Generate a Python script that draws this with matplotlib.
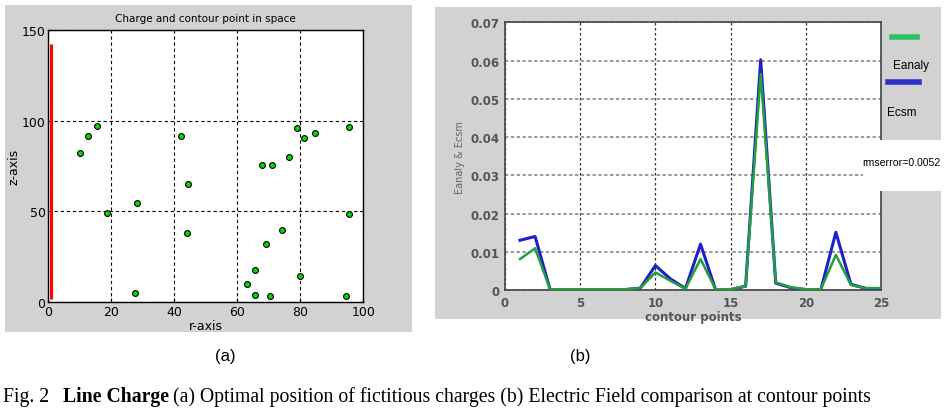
import matplotlib
matplotlib.use("Agg")
import matplotlib.pyplot as plt
from matplotlib.patches import Rectangle
from matplotlib.lines import Line2D
from matplotlib.text import Annotation

# (a) charge and contour point positions
r_pts = [10, 12.7, 15.5, 18.5, 28, 27.6, 42.2, 44.4, 43.9, 67.9, 70.9, 76.3, 79.0,
         81.3, 84.8, 95.6, 95.6, 74.3, 69.2, 65.5, 63.2, 65.5, 70.5, 79.8, 94.6]
z_pts = [82.3, 91.7, 97.2, 49.3, 54.8, 5.1, 91.7, 64.9, 38.3, 75.7, 75.7, 79.8, 95.9,
         90.6, 93.2, 96.5, 48.8, 39.6, 32.1, 17.8, 10.3, 4.0, 3.6, 14.7, 3.6]
charge_r = [0.7, 0.7]
charge_z = [2, 142]

# (b) electric field at contour points
contour = [1, 2, 3, 4, 5, 6, 7, 8, 9, 10, 11, 12, 13, 14, 15, 16, 17, 18, 19, 20,
           21, 22, 23, 24, 25]
e_analy = [0.0081, 0.0109, 0.0002, 0.0002, 0.0002, 0.0002, 0.0002, 0.0002, 0.0005,
           0.0046, 0.0024, 0.0003, 0.0081, 0.0002, 0.0002, 0.0010, 0.0565, 0.0020,
           0.0007, 0.0002, 0.0002, 0.0092, 0.0013, 0.0005, 0.0005]
e_csm = [0.0130, 0.0140, 0.0001, 0.0001, 0.0001, 0.0001, 0.0001, 0.0001, 0.0005,
         0.0064, 0.0029, 0.0004, 0.0120, 0.0001, 0.0001, 0.0010, 0.0602, 0.0018,
         0.0006, 0.0001, 0.0001, 0.0151, 0.0015, 0.0004, 0.0002]

W, H = 944, 410
fig = plt.figure(figsize=(W / 100, H / 100), dpi=100)


def box(x0, y0, x1, y1):
    # pixel box (top-left origin) -> figure fraction rect
    return [x0 / W, 1 - y1 / H, (x1 - x0) / W, (y1 - y0) / H]


def gray_panel(x0, y0, x1, y1, color="#d2d2d2", z=-1):
    l, b, w, h = box(x0, y0, x1, y1)
    fig.patches.append(Rectangle((l, b), w, h, transform=fig.transFigure,
                                 facecolor=color, edgecolor="none", zorder=z))


gray_panel(5, 6, 412, 333)
gray_panel(435, 8, 941, 320)

# ---- panel (a)
ax = fig.add_axes(box(48.3, 30.7, 363.3, 303.3))
ax.plot(charge_r, charge_z, color="red", lw=2.2, solid_capstyle="butt", zorder=3)
ax.plot(r_pts, z_pts, "o", ms=4.2, mfc="#00dd00", mec="black", mew=0.8, zorder=4)
ax.set_xlim(0, 100)
ax.set_ylim(0, 150)
ax.set_xticks([0, 20, 40, 60, 80, 100])
ax.set_yticks([0, 50, 100, 150])
ax.grid(True, color="black", ls=(0, (3, 2.5)), lw=0.8)
ax.tick_params(direction="in", length=3, labelsize=9, pad=2)
ax.set_title("Charge and contour point in space", fontsize=7.5, pad=6)
ax.set_xlabel("r-axis", fontsize=9, labelpad=1)
ax.set_ylabel("z-axis", fontsize=9, labelpad=1)
for s in ax.spines.values():
    s.set_linewidth(1.0)

# ---- panel (b)
bx = fig.add_axes(box(505, 23.3, 881, 291))
bx.plot(contour, e_csm, color="#1f1fcc", lw=2.2, zorder=3)
bx.plot(contour, e_analy, color="#22a03a", lw=1.8, zorder=4)
bx.set_xlim(0, 25)
bx.set_ylim(0, 0.07)
bx.set_xticks([0, 5, 10, 15, 20, 25])
bx.set_yticks([0, 0.01, 0.02, 0.03, 0.04, 0.05, 0.06, 0.07])
bx.set_yticklabels(["0", "0.01", "0.02", "0.03", "0.04", "0.05", "0.06", "0.07"])
bx.grid(True, axis="x", color="#333333", ls=(0, (2, 2)), lw=0.9)
bx.grid(True, axis="y", color="#888888", ls=(0, (2, 1.5)), lw=1.2)
bx.tick_params(length=0, labelsize=8.5, pad=4, labelcolor="#555555")
for lab in bx.get_xticklabels() + bx.get_yticklabels():
    lab.set_fontweight("bold")
bx.set_xlabel("contour points", fontsize=8.5, color="#555555", fontweight="bold",
              labelpad=1)
bx.set_ylabel("Eanaly & Ecsm", fontsize=7, color="#666666", labelpad=4)
for s in bx.spines.values():
    s.set_linewidth(1.2)
    s.set_color("#444444")

# legend drawn at right of axes
fig.add_artist(Line2D([891.7 / W, 917 / W], [1 - 38 / H, 1 - 38 / H],
                      color="#2fc060", lw=4, zorder=5))
fig.add_artist(Line2D([888 / W, 919 / W], [1 - 83 / H, 1 - 83 / H],
                      color="#3030c8", lw=4, zorder=5))
sans = "Liberation Sans"
fig.text(911 / W, 1 - 66 / H, "Eanaly", family=sans, fontsize=8.5,
         ha="center", va="center", zorder=6)
fig.text(902 / W, 1 - 113 / H, "Ecsm", family=sans, fontsize=8.5,
         ha="center", va="center", zorder=6)

# white box with rms error
gray_panel(863, 141, 944, 192, color="white", z=5)
fig.text(901 / W, 1 - 163 / H, "rmserror=0.0052", family=sans, fontsize=7.6,
         ha="center", va="center", zorder=6)

# panel labels
fig.text(225 / W, 1 - 357 / H, "(a)", family=sans, fontsize=12,
         ha="center", va="center")
fig.text(580 / W, 1 - 357 / H, "(b)", family=sans, fontsize=12,
         ha="center", va="center")

# caption, pieces chained one after another
serif = "Liberation Serif"
t0 = fig.text(3 / W, 1 - 402 / H, "Fig. 2", family=serif, fontsize=14.2,
              va="baseline", ha="left")
t1 = Annotation("Line Charge", xy=(1, 0), xycoords=t0, xytext=(10, 0),
                textcoords="offset points", va="bottom", ha="left",
                family=serif, fontsize=14.2, fontweight="bold")
fig.add_artist(t1)
t2 = Annotation("(a) Optimal position of fictitious charges (b) Electric Field "
                "comparison at contour points", xy=(1, 0), xycoords=t1,
                xytext=(3, 0), textcoords="offset points", va="bottom",
                ha="left", family=serif, fontsize=14.2)
fig.add_artist(t2)

fig.savefig("out.png", dpi=100)
